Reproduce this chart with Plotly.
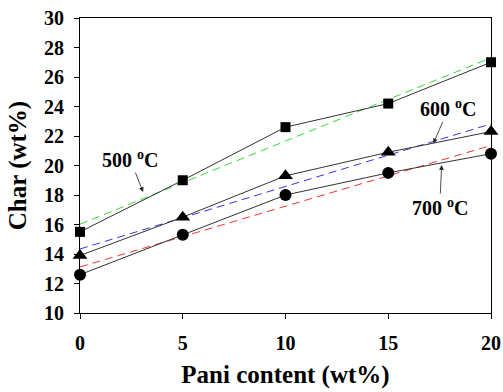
import numpy as np
import plotly.graph_objects as go

pani = [0, 5, 10, 15, 20]
char_500 = [15.5, 19.0, 22.6, 24.2, 27.0]
char_600 = [13.9, 16.5, 19.3, 20.9, 22.3]
char_700 = [12.6, 15.3, 18.0, 19.5, 20.8]

x_ticks = [0, 5, 10, 15, 20]
y_ticks = [10, 12, 14, 16, 18, 20, 22, 24, 26, 28, 30]

FONT = "Liberation Serif"

fig = go.Figure()

series = [
    (char_500, "square", 10, "#33dd33", "500 °C"),
    (char_600, "triangle-up", 13, "#3333ee", "600 °C"),
    (char_700, "circle", 12, "#ee3333", "700 °C"),
]

for ys, sym, msize, fitcol, name in series:
    slope, icpt = np.polyfit(pani, ys, 1)
    xf = [pani[0], pani[-1]]
    yf = [icpt + slope * v for v in xf]
    fig.add_trace(go.Scatter(x=xf, y=yf, mode="lines",
                             line=dict(color=fitcol, width=1, dash="8px,5px"),
                             showlegend=False, hoverinfo="skip"))

for ys, sym, msize, fitcol, name in series:
    fig.add_trace(go.Scatter(x=pani, y=ys, mode="lines+markers", name=name,
                             line=dict(color="#333333", width=1),
                             marker=dict(symbol=sym, size=msize, color="black"),
                             showlegend=False, cliponaxis=False))

ann_font = dict(family=FONT, size=20, color="black")
arrow = dict(showarrow=True, arrowhead=2, arrowsize=1.2, arrowwidth=0.8,
             arrowcolor="#222222", font=ann_font)
fig.add_annotation(x=3.07, y=18.2, ax=-13, ay=-33,
                   text="<b>500 <sup>o</sup>C</b>", **arrow)
fig.add_annotation(x=17.2, y=21.5, ax=15, ay=-35,
                   text="<b>600 <sup>o</sup>C</b>", **arrow)
fig.add_annotation(x=17.6, y=20.03, ax=-2, ay=42,
                   text="<b>700 <sup>o</sup>C</b>", **arrow)

axis_common = dict(showgrid=False, zeroline=False, showline=True,
                   linecolor="black", linewidth=1, mirror=True,
                   ticks="outside", ticklen=5, tickcolor="black", automargin=False,
                   tickfont=dict(family=FONT, size=20, color="black", weight="bold"))

fig.update_xaxes(range=[0, 20], tickvals=x_ticks, ticktext=[str(v) for v in x_ticks],
                 title=dict(text="<b>Pani content (wt%)</b>",
                            font=dict(family=FONT, size=25, color="black"), standoff=12),
                 ticklabelstandoff=7, **axis_common)
fig.update_yaxes(range=[10, 30], tickvals=y_ticks, ticktext=[str(v) for v in y_ticks],
                 title=dict(text="<b>Char (wt%)</b>",
                            font=dict(family=FONT, size=25, color="black"), standoff=10),
                 ticklabelstandoff=6, **axis_common)

fig.update_layout(width=503, height=392,
                  margin=dict(l=80, r=12, t=18, b=79, autoexpand=False),
                  plot_bgcolor="white", paper_bgcolor="white")

fig.write_html("out.html")
